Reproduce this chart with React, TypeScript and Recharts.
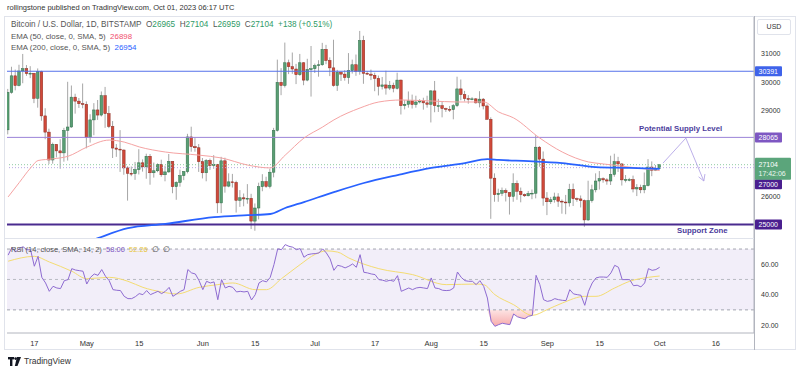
import React from "react";
import {
  ComposedChart,
  Bar,
  Line,
  Area,
  XAxis,
  YAxis,
  ReferenceLine,
  ReferenceArea,
} from "recharts";

const FONT = '"Liberation Sans", Arial, sans-serif';

// BTC/USD daily, Bitstamp. day 0 = Apr 10 2023, day 174 = Oct 1 2023
const opens = [
  28330, 29650, 30230, 29890, 30400, 30480, 30310, 30320, 29440, 30390, 28820, 28250, 27270, 27820, 27590, 27520, 28310, 28430, 29480, 29340, 29250,
  29230, 28070, 28680, 29030, 28850, 29530, 28900, 28450, 27690, 27650, 27620, 26990, 26800, 26790, 26930, 27170, 27030, 27400, 26820, 26890, 27110, 26750, 26850, 27220, 26330, 26480, 26720, 26860, 28080, 27740, 27700,
  27210, 26820, 27250, 27070, 27120, 25760, 27240, 26350, 26500, 26480, 25850, 25940, 25900, 25920, 25120, 25580, 26330, 26510, 26340, 26840, 28310, 30000, 29890, 30690, 30550, 30470, 30270, 30690, 30080, 30450,
  30480, 30590, 30620, 31160, 30770, 30510, 29890, 30350, 30290, 30170, 30410, 30620, 30390, 31470, 30320, 30290, 30250, 30140, 29860, 29910, 29800, 29900, 29790, 30080, 29180, 29230, 29350, 29220, 29310, 29350, 29280,
  29230, 29700, 29180, 29180, 29080, 29050, 29040, 29180, 29770, 29570, 29430, 29400, 29420, 29280, 29410, 29170, 28700, 26630, 26050, 26100, 26190, 26120, 25990, 26440, 26170, 26050, 26010, 26090, 26100, 27720, 27300,
  25930, 25800, 25870, 25970, 25820, 25790, 25760, 26240, 25910, 25900, 25840, 25160, 25840, 26220, 26530, 26610, 26570, 26530, 26760, 27210, 27130, 26570, 26580, 26580, 26250, 26300, 26220, 26370, 27020, 26910,
  26965,
];
const highs = [
  29770, 30550, 30450, 30620, 31000, 30610, 30570, 30320, 30490, 30410, 29090, 28370, 27880, 27820, 28000, 28400, 30020, 29890, 29600, 29450, 29960,
  29330, 28880, 29270, 29380, 29680, 29840, 29170, 28640, 27830, 28320, 27640, 27050, 27040, 27200, 27650, 27290, 27490, 27480, 27180, 27150, 27280, 27070, 27480, 27220, 26520, 26930, 26880, 28190, 28440, 28040, 27830,
  27340, 27300, 27320, 27440, 27130, 27380, 27350, 26800, 26780, 26540, 26210, 26090, 26420, 26080, 25740, 26470, 26770, 26680, 26960, 28400, 30800, 30500, 31400, 30800, 31050, 30650, 31000, 30710, 30830, 31280,
  30660, 30780, 31390, 31320, 30880, 31500, 30440, 30380, 30430, 31030, 30800, 30980, 31810, 31640, 30400, 30450, 30340, 30240, 30190, 30410, 30050, 29990, 30340, 30100, 29370, 29680, 29570, 29530, 29410, 29460, 29530,
  29730, 30050, 29420, 29310, 29110, 29170, 29240, 30200, 30100, 29700, 29550, 29480, 29450, 29690, 29450, 29230, 28770, 26800, 26260, 26300, 26270, 26140, 26800, 26550, 26300, 26090, 26180, 26230, 28140, 27760, 27570,
  26140, 25970, 26120, 26100, 25880, 26040, 26430, 26440, 25950, 26020, 25880, 26540, 26400, 26800, 26880, 26660, 26630, 27420, 27490, 27380, 27160, 26740, 26640, 26720, 26420, 26400, 26830, 27300, 27220, 27090,
  27104,
];
const lows = [
  28170, 29600, 29720, 29860, 29970, 30230, 30150, 29270, 29110, 28650, 28000, 27130, 27140, 27360, 26960, 27210, 27250, 28400, 28900, 29100, 29090,
  27680, 27880, 28140, 28680, 28800, 28400, 28390, 27340, 27380, 26850, 26750, 25840, 26700, 26570, 26760, 26860, 26610, 26400, 26650, 26840, 26680, 26520, 26820, 26100, 25870, 26330, 26560, 26800, 27560, 27560, 26850,
  26620, 26520, 26920, 26960, 25400, 25400, 26120, 26310, 26300, 25420, 25620, 25640, 25730, 24840, 24780, 25180, 26170, 26290, 26270, 26660, 28270, 29550, 29820, 30290, 30300, 29940, 30230, 29900, 30040, 29500,
  30330, 30200, 30580, 30640, 30220, 29850, 29700, 30050, 30060, 29950, 30310, 30230, 30270, 29950, 30260, 30080, 29690, 29540, 29750, 29570, 29730, 29650, 29750, 28870, 29050, 29110, 29080, 29110, 29260, 29040, 29110,
  28590, 28950, 28960, 28770, 28960, 28960, 28700, 29130, 29370, 29330, 29250, 29370, 29250, 29120, 29050, 28700, 25200, 25800, 25800, 26000, 25810, 25350, 25800, 25870, 25780, 25970, 25990, 25890, 25920, 27030, 25660,
  25330, 25720, 25770, 25620, 25380, 25360, 25630, 25650, 25800, 25600, 24920, 25130, 25770, 26130, 26230, 26470, 26400, 26390, 26680, 26850, 26370, 26480, 26520, 26130, 26000, 26100, 26100, 26340, 26700, 26880,
  26959,
];
const closes = [
  29650, 30230, 29890, 30400, 30480, 30310, 30320, 29440, 30390, 28820, 28250, 27270, 27820, 27590, 27520, 28310, 28430, 29480, 29340, 29250, 29230,
  28070, 28680, 29030, 28850, 29530, 28900, 28450, 27690, 27650, 27620, 26990, 26800, 26790, 26930, 27170, 27030, 27400, 26820, 26890, 27110, 26750, 26850, 27220, 26330, 26480, 26720, 26860, 28080, 27740, 27700, 27210,
  26820, 27250, 27070, 27120, 25760, 27240, 26350, 26500, 26480, 25850, 25940, 25900, 25920, 25120, 25580, 26330, 26510, 26340, 26840, 28310, 30000, 29890, 30690, 30550, 30470, 30270, 30690, 30080, 30450, 30480,
  30590, 30620, 31160, 30770, 30510, 29890, 30350, 30290, 30170, 30410, 30620, 30390, 31470, 30320, 30290, 30250, 30140, 29860, 29910, 29800, 29900, 29790, 30080, 29180, 29230, 29350, 29220, 29310, 29350, 29280, 29230,
  29700, 29180, 29180, 29080, 29050, 29040, 29180, 29770, 29570, 29430, 29400, 29420, 29280, 29410, 29170, 28700, 26630, 26050, 26100, 26190, 26120, 25990, 26440, 26170, 26050, 26010, 26090, 26100, 27720, 27300, 25930,
  25800, 25870, 25970, 25820, 25790, 25760, 26240, 25910, 25900, 25840, 25160, 25840, 26220, 26530, 26610, 26570, 26530, 26760, 27210, 27130, 26570, 26580, 26580, 26250, 26300, 26220, 26370, 27020, 26910, 26970,
  27104,
];
const rsi = [
  66, 71, 68, 70.5, 71.5, 69.5, 69.5, 58.7, 65.2, 51.4, 47.7, 42.2, 45.5, 44.4, 44, 49.2, 49.9, 57.1, 56.2, 55.8, 55.4,
  47, 51.4, 53.6, 52.7, 56.5, 52.1, 49.2, 43.3, 42.9, 42.7, 38.9, 37.4, 37.4, 38.7, 40.7, 40, 42.7, 40, 41.1, 42.2, 40.7, 42.2, 44.8, 38.9, 40.5, 42.2, 43.3, 56.5, 54.3, 53.6, 49.2,
  43.3, 48.8, 47.7, 48.4, 36.7, 49.9, 44.4, 45.5, 44.8, 41.8, 42.2, 41.8, 42.2, 36.5, 40, 47.7, 49.2, 48.4, 51.4, 59.8, 70.1, 69.6, 72.9, 71.8, 71.2, 69.6, 70.3, 64.6, 66.3, 66.8,
  67, 67.4, 70.1, 67.4, 63.5, 56, 59.3, 58.7, 57.6, 58.7, 60.2, 58, 66.3, 54.7, 54.3, 53.6, 53.2, 49.9, 49.5, 48.8, 49.5, 48.8, 52.5, 42.2, 43.3, 44.4, 43.3, 44.4, 44.8, 44.4, 44,
  51, 44.4, 44, 42.9, 42.7, 42.9, 44.4, 54.9, 51.4, 49.2, 48.8, 48.8, 46.6, 49.2, 45.5, 37.8, 22.5, 19.2, 20.3, 21.2, 20.7, 20.3, 27.3, 25.5, 24.7, 24.2, 25.8, 26.4, 52.7, 46.6, 36.7,
  35.6, 36.1, 37.4, 36.7, 36.3, 36.1, 43.3, 40.5, 40, 39.6, 33, 42.2, 47.7, 51, 51.6, 51.6, 51.4, 54.3, 59.3, 58, 49.9, 49.9, 49.9, 45.9, 46.2, 45.1, 47.7, 57.1, 56, 56.5,
  58,
];

// indicator lines (day, value)
const ema50Days = [0, 3, 6, 8, 12, 16, 21, 27, 31, 35, 42, 51, 57, 64, 70, 74, 79, 84, 87, 94, 99, 105, 113, 120, 127, 131, 135, 142, 148, 155, 159, 166, 174];
const ema50Vals = [25970, 26480, 26990, 27250, 27310, 27400, 27720, 27970, 27900, 27730, 27550, 27440, 27340, 27090, 26990, 27440, 28040, 28430, 28680, 29100, 29310, 29380, 29345, 29310, 29310, 28960, 28750, 28040, 27550, 27200, 27130, 27020, 26898];
const ema200Days = [20, 24, 32, 42, 55, 64, 70, 74, 79, 87, 95, 104, 113, 122, 128, 131, 139, 148, 157, 166, 174];
const ema200Vals = [24330, 24520, 24870, 25020, 25260, 25330, 25370, 25580, 25790, 26140, 26460, 26740, 26990, 27160, 27300, 27270, 27230, 27160, 27020, 26990, 26954];
const rsiMaDays = [0, 7, 11, 17, 21, 27, 32, 36, 41, 45, 51, 56, 60, 66, 69, 73, 78, 82, 85, 88, 91, 99, 108, 117, 125, 127, 130, 135, 140, 144, 148, 154, 157, 162, 166, 171, 174];
const rsiMaVals = [62, 65.2, 61.5, 55.4, 50.5, 51.4, 48.8, 44.8, 41.8, 40.5, 44.8, 46.6, 47.7, 43.3, 43.3, 50.5, 59.8, 66.5, 68.8, 68, 64.1, 57.1, 53.2, 46.6, 47, 46.6, 40, 33.4, 26.4, 30.2, 34.5, 38.9, 38.9, 44.4, 48.8, 51.4, 52.26];

const tickDays = [7, 21, 35, 52, 66, 82, 98, 113, 127, 144, 158, 174, 189];
const tickLabels = ["17", "May", "15", "Jun", "15", "Jul", "17", "Aug", "15", "Sep", "15", "Oct", "16"];
const priceTicks = [26000, 29000, 30000, 31000];
const rsiTicks = [20, 40, 60];

// drawn levels
const resistanceTop = 30391;
const supplyLevel = 28065;
const pivotLevel = 27000;
const supportLevel = 25000;
const lastPrice = 27104;
// projection arrow: (day, price)
const arrowDays = [174.9, 181, 185.8];
const arrowVals = [27160, 28040, 26530];
const arrowHeadDays = [186.1, 184.4];
const arrowHeadVals = [26775, 26676];

const candles = closes.map((c, i) => ({
  i,
  open: opens[i],
  high: highs[i],
  low: lows[i],
  close: c,
  rsi: rsi[i],
}));
const ema50 = ema50Days.map((d, k) => ({ i: d, v: ema50Vals[k] }));
const ema200 = ema200Days.map((d, k) => ({ i: d, v: ema200Vals[k] }));
const rsiMa = rsiMaDays.map((d, k) => ({ i: d, v: rsiMaVals[k] }));
const oversold = candles
  .filter((d) => d.i >= 128 && d.i <= 141)
  .map((d) => ({ i: d.i, band: [Math.min(d.rsi, 30), 30] }));
const arrow = arrowDays.map((d, k) => ({ i: d, v: arrowVals[k] }));

const UP = "#5a9e74";
const UP_EDGE = "#2f6e49";
const DOWN = "#d0493a";
const DOWN_EDGE = "#8c2a1f";
const X_DOMAIN: [number, number] = [-0.3, 199.2];

function Candle(props: any) {
  const { x, y, width, height, payload } = props;
  if (!payload) return null;
  const { open, close, high, low } = payload;
  const top = Math.min(y, y + height);
  const span = Math.abs(height);
  const k = high === low ? 0 : span / (high - low);
  const cx = x + width / 2;
  const up = close >= open;
  const bTop = top + (high - Math.max(open, close)) * k;
  const bH = Math.max(Math.abs(open - close) * k, 0.8);
  return (
    <g>
      <line x1={cx} x2={cx} y1={top} y2={top + span} stroke="#9c9c9c" strokeWidth={0.9} />
      <rect
        x={cx - 1.3}
        y={bTop}
        width={2.6}
        height={bH}
        fill={up ? UP : DOWN}
        stroke={up ? UP_EDGE : DOWN_EDGE}
        strokeWidth={0.5}
      />
    </g>
  );
}

const tag = (text: string, bg: string, shift = 0) => (props: any) => {
  const vb = props.viewBox || {};
  const x = (vb.x ?? 0) + (vb.width ?? 0);
  const y = (vb.y ?? 0) + shift;
  return (
    <g>
      <rect x={x + 1} y={y - 5} width={27} height={10} fill={bg} rx={1} />
      <text x={x + 4.5} y={y + 2.6} fill="#fff" fontSize={7} fontFamily={FONT}>
        {text}
      </text>
    </g>
  );
};

const lastTag = (props: any) => {
  const vb = props.viewBox || {};
  const x = (vb.x ?? 0) + (vb.width ?? 0);
  const y = vb.y ?? 0;
  return (
    <g>
      <rect x={x + 1} y={y - 7} width={36} height={22} fill="#5ba57b" rx={1} />
      <text x={x + 4.5} y={y + 2.4} fill="#fff" fontSize={7} fontFamily={FONT}>
        {String(lastPrice)}
      </text>
      <text x={x + 4.5} y={y + 11.4} fill="#eef7f1" fontSize={7} fontFamily={FONT}>
        17:42:06
      </text>
    </g>
  );
};

const priceTick = (p: any) => (
  <text x={p.x + 5} y={p.y + 2.5} fontSize={7} fill="#333" fontFamily={FONT}>
    {p.payload.value}
  </text>
);
const rsiTick = (p: any) => (
  <text x={p.x + 5} y={p.y + 2.5} fontSize={7} fill="#333" fontFamily={FONT}>
    {Number(p.payload.value).toFixed(2)}
  </text>
);
const timeTick = (p: any) => (
  <text x={p.x} y={p.y + 10.5} fontSize={7.5} fill="#333" textAnchor="middle" fontFamily={FONT}>
    {tickLabels[tickDays.indexOf(p.payload.value)]}
  </text>
);

const abs = (style: React.CSSProperties): React.CSSProperties => ({ position: "absolute", ...style });
const green = { color: "#2f9a66" };

export default function App() {
  return (
    <div style={abs({ left: 0, top: 0, width: 800, height: 372, background: "#fff", overflow: "hidden", fontFamily: FONT })}>
      <div style={abs({ left: 7, top: 3, fontSize: 7.5, color: "#333", whiteSpace: "nowrap" })}>
        rollingstone published on TradingView.com, Oct 01, 2023 06:17 UTC
      </div>
      <div style={abs({ left: 4, top: 16, width: 792, height: 334, border: "1px solid #e0e3eb", boxSizing: "border-box" })} />

      <div style={abs({ left: 0, top: 0 })}>
        <ComposedChart width={800} height={238} data={candles} margin={{ top: 17, right: 0, bottom: 0, left: 7 }}>
          <XAxis dataKey="i" type="number" domain={X_DOMAIN} allowDataOverflow hide />
          <YAxis
            orientation="right"
            width={46}
            domain={[24525, 32300]}
            allowDataOverflow
            ticks={priceTicks}
            tick={priceTick}
            tickLine={false}
            tickSize={0}
            axisLine={{ stroke: "#b2b5be" }}
          />
          <ReferenceLine y={resistanceTop} stroke="#5572ea" strokeWidth={1} label={tag("30391", "#3f63ea")} />
          <ReferenceLine y={supplyLevel} stroke="#9b83d8" strokeWidth={1} label={tag("28065", "#7e57c2")} />
          <ReferenceLine y={supportLevel} stroke="#4a2b8f" strokeWidth={2} label={tag("25000", "#4a1f8f")} />
          <ReferenceLine y={pivotLevel} stroke="#b9a8e4" strokeDasharray="1 2" label={tag("27000", "#4a1f8f", 16.5)} />
          <ReferenceLine y={lastPrice} stroke="#8fcaa3" strokeDasharray="1 2" label={lastTag} />
          <Bar dataKey={(d: any) => [d.low, d.high]} barSize={2.6} shape={Candle} isAnimationActive={false} />
          <Line data={ema50} dataKey="v" type="monotone" stroke="#f5a3a3" strokeWidth={1} dot={false} isAnimationActive={false} />
          <Line data={ema200} dataKey="v" type="monotone" stroke="#2962ff" strokeWidth={1.8} dot={false} isAnimationActive={false} />
          <Line data={arrow} dataKey="v" type="linear" stroke="#b4a6e6" strokeWidth={0.9} dot={false} isAnimationActive={false} />
          <ReferenceLine
            segment={[
              { x: arrowDays[2], y: arrowVals[2] },
              { x: arrowHeadDays[0], y: arrowHeadVals[0] },
            ]}
            stroke="#b4a6e6"
            strokeWidth={0.9}
          />
          <ReferenceLine
            segment={[
              { x: arrowDays[2], y: arrowVals[2] },
              { x: arrowHeadDays[1], y: arrowHeadVals[1] },
            ]}
            stroke="#b4a6e6"
            strokeWidth={0.9}
          />
        </ComposedChart>
      </div>

      <div style={abs({ left: 0, top: 238 })}>
        <ComposedChart width={800} height={112} data={candles} margin={{ top: 1, right: 0, bottom: 0, left: 7 }}>
          <XAxis
            dataKey="i"
            type="number"
            domain={X_DOMAIN}
            allowDataOverflow
            ticks={tickDays}
            tick={timeTick}
            tickLine={false}
            tickSize={0}
            height={17}
            axisLine={{ stroke: "#b2b5be" }}
          />
          <YAxis
            orientation="right"
            width={46}
            domain={[14.8, 76.6]}
            allowDataOverflow
            ticks={rsiTicks}
            tick={rsiTick}
            tickLine={false}
            tickSize={0}
            axisLine={{ stroke: "#b2b5be" }}
          />
          <ReferenceArea y1={30} y2={70} fill="#7e57c2" fillOpacity={0.1} stroke="none" />
          <ReferenceLine y={70} stroke="#a3a6af" strokeDasharray="3 3" />
          <ReferenceLine y={50} stroke="#b8bbc3" strokeDasharray="3 3" />
          <ReferenceLine y={30} stroke="#a3a6af" strokeDasharray="3 3" />
          <defs>
            <linearGradient id="osFill" x1="0" y1="0" x2="0" y2="1">
              <stop offset="0%" stopColor="#fde4e4" />
              <stop offset="100%" stopColor="#f7aaaa" />
            </linearGradient>
          </defs>
          <Area data={oversold} dataKey="band" type="linear" stroke="none" fill="url(#osFill)" fillOpacity={1} isAnimationActive={false} />
          <Line data={rsiMa} dataKey="v" type="monotone" stroke="#f4dc72" strokeWidth={1} dot={false} isAnimationActive={false} />
          <Line dataKey="rsi" type="linear" stroke="#8e6bd1" strokeWidth={1} dot={false} isAnimationActive={false} />
        </ComposedChart>
      </div>

      <div style={abs({ left: 754, top: 16, width: 1, height: 334, background: "#b2b5be" })} />
      <div style={abs({ left: 4, top: 238, width: 750, height: 1, background: "#e0e3eb" })} />

      <div style={abs({ left: 757, top: 19, width: 34, height: 16, border: "1px solid #e0e3eb", borderRadius: 2, boxSizing: "border-box", background: "#fff", fontSize: 7, color: "#333", textAlign: "center", lineHeight: "14px" })}>
        USD
      </div>

      <div style={abs({ left: 11, top: 20, fontSize: 8.2, lineHeight: "10px", color: "#555", whiteSpace: "nowrap" })}>
        Bitcoin / U.S. Dollar, 1D, BITSTAMP&nbsp;&nbsp;O<span style={green}>26965</span>&nbsp;&nbsp;H
        <span style={green}>27104</span>&nbsp;&nbsp;L<span style={green}>26959</span>&nbsp;&nbsp;C
        <span style={green}>27104</span>&nbsp;&nbsp;<span style={green}>+138 (+0.51%)</span>
      </div>
      <div style={abs({ left: 11, top: 31.5, fontSize: 7.9, lineHeight: "10px", color: "#555", whiteSpace: "nowrap" })}>
        EMA (50, close, 0, SMA, 5)&nbsp;&nbsp;<span style={{ color: "#f0506e" }}>26898</span>
      </div>
      <div style={abs({ left: 11, top: 43, fontSize: 7.9, lineHeight: "10px", color: "#555", whiteSpace: "nowrap" })}>
        EMA (200, close, 0, SMA, 5)&nbsp;&nbsp;<span style={{ color: "#2962ff" }}>26954</span>
      </div>
      <div style={abs({ left: 11, top: 245, fontSize: 7.5, lineHeight: "10px", color: "#555", whiteSpace: "nowrap" })}>
        RSI (14, close, SMA, 14, 2)&nbsp;&nbsp;<span style={{ color: "#7e57c2" }}>58.00</span>&nbsp;&nbsp;
        <span style={{ color: "#e8c63a" }}>52.26</span>&nbsp;&nbsp;∅&nbsp;&nbsp;∅
      </div>

      <div style={abs({ left: 639, top: 124, fontSize: 7.8, fontWeight: 700, color: "#4b3c9c", whiteSpace: "nowrap" })}>
        Potential Supply Level
      </div>
      <div style={abs({ left: 677, top: 226, fontSize: 7.8, fontWeight: 700, color: "#4b3c9c", whiteSpace: "nowrap" })}>
        Support Zone
      </div>

      <div style={abs({ left: 8, top: 356, display: "flex", alignItems: "center", gap: 3 })}>
        <svg width={13} height={9}>
          <rect x={0} y={0} width={6} height={2.4} fill="#131722" />
          <rect x={2} y={0} width={2.4} height={9} fill="#131722" />
          <circle cx={7.6} cy={1.6} r={1.3} fill="#131722" />
          <polygon points="9,0 13,0 9.5,9 6.8,9" fill="#131722" />
        </svg>
        <span style={{ fontSize: 8.5, color: "#333" }}>TradingView</span>
      </div>
    </div>
  );
}
